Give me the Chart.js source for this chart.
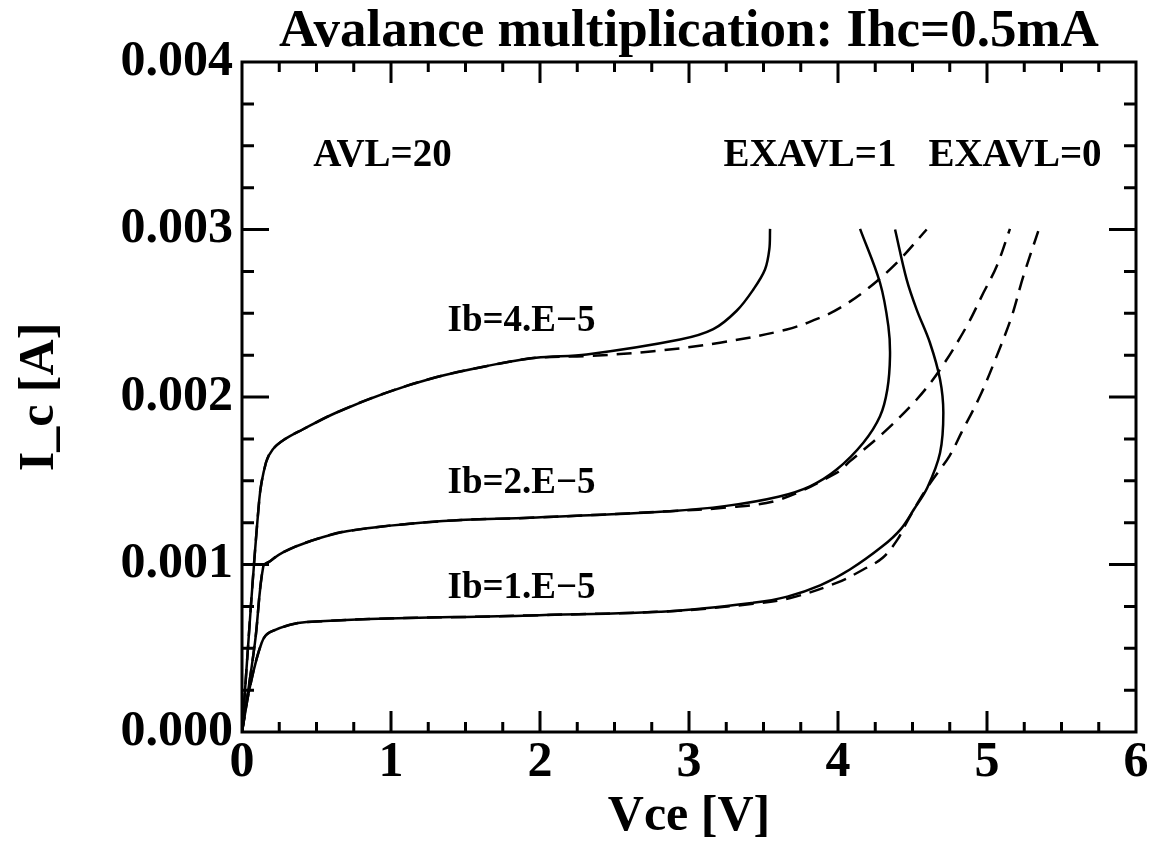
<!DOCTYPE html>
<html>
<head>
<meta charset="utf-8">
<title>Avalance multiplication</title>
<script src="https://cdn.jsdelivr.net/npm/chart.js@4.4.1/dist/chart.umd.min.js"></script>
<style>
  html, body { margin: 0; padding: 0; background: #fff; }
</style>
</head>
<body>
<canvas id="myChart" width="1153" height="843"></canvas>
<script>
// Ic(Vce) curves, Ic in A; solid = EXAVL=1, dashed = EXAVL=0
var vce_ib1_ex1 = [0, 0.054, 0.132, 0.188, 0.434, 1.933, 2.872, 3.43, 3.66, 3.88, 4.08, 4.30, 4.42, 4.51, 4.60, 4.685, 4.707, 4.685, 4.617, 4.528, 4.461, 4.383];
var ic_ib1_ex1  = [0, 0.000273, 0.000533, 0.000596, 0.000656, 0.000696, 0.000721, 0.000771, 0.000808, 0.000875, 0.00097, 0.00111, 0.00121, 0.00133, 0.00146, 0.001667, 0.001906, 0.002104, 0.002324, 0.002522, 0.002701, 0.003];

var vce_ib1_ex0 = [0, 0.054, 0.132, 0.188, 0.434, 1.933, 2.872, 3.43, 3.68, 3.99, 4.17, 4.30, 4.40, 4.46, 4.55, 4.63, 4.75, 4.83, 4.95, 5.065, 5.166, 5.244, 5.344];
var ic_ib1_ex0  = [0, 0.000273, 0.000533, 0.000596, 0.000656, 0.000696, 0.000721, 0.000765, 0.0008, 0.00089, 0.00097, 0.00104, 0.00115, 0.00125, 0.00139, 0.0015, 0.00165, 0.00179, 0.002, 0.002244, 0.002482, 0.002721, 0.00299];

var vce_ib2_ex1 = [0, 0.087, 0.143, 0.188, 0.275, 0.456, 0.703, 1.349, 1.933, 2.872, 3.25, 3.6, 3.812, 3.991, 4.17, 4.282, 4.331, 4.349, 4.338, 4.282, 4.148];
var ic_ib2_ex1  = [0, 0.000534, 0.00099, 0.00102, 0.001073, 0.001139, 0.001199, 0.001259, 0.001279, 0.001318, 0.00135, 0.001405, 0.001467, 0.001567, 0.001727, 0.001885, 0.002045, 0.002244, 0.002423, 0.002682, 0.003004];

var vce_ib2_ex0 = [0, 0.087, 0.143, 0.188, 0.275, 0.456, 0.703, 1.349, 1.933, 2.872, 3.25, 3.6, 3.99, 4.081, 4.304, 4.528, 4.685, 4.864, 4.976, 5.065, 5.154];
var ic_ib2_ex0  = [0, 0.000534, 0.00099, 0.00102, 0.001073, 0.001139, 0.001199, 0.001259, 0.001279, 0.001318, 0.00134, 0.001385, 0.001547, 0.001617, 0.001786, 0.001985, 0.002164, 0.002423, 0.002622, 0.002781, 0.003004];

var vce_ib4_ex1 = [0, 0.116, 0.161, 0.206, 0.284, 0.407, 0.631, 0.966, 1.302, 1.638, 1.973, 2.313, 2.94, 3.163, 3.32, 3.432, 3.51, 3.539, 3.544];
var ic_ib4_ex1  = [0, 0.001388, 0.001609, 0.001687, 0.001746, 0.001806, 0.001906, 0.002025, 0.002118, 0.002184, 0.002234, 0.002254, 0.002343, 0.002405, 0.002515, 0.002642, 0.002761, 0.002881, 0.003004];

var vce_ib4_ex0 = [0, 0.116, 0.161, 0.206, 0.284, 0.407, 0.631, 0.966, 1.302, 1.638, 1.973, 2.313, 2.76, 3.208, 3.656, 3.879, 4.013, 4.193, 4.394, 4.595];
var ic_ib4_ex0  = [0, 0.001388, 0.001609, 0.001687, 0.001746, 0.001806, 0.001906, 0.002025, 0.002118, 0.002184, 0.002234, 0.002244, 0.002273, 0.002324, 0.002403, 0.002473, 0.002532, 0.002642, 0.002801, 0.003];

// axes
var xTicks = [0, 1, 2, 3, 4, 5, 6];
var yTicks = [0, 0.001, 0.002, 0.003, 0.004];

// texts written inside the plot: [text, Vce, Ic at baseline, size]
var notes = [
    ['AVL=20', 0.943, 0.003382, 39],
    ['EXAVL=1', 3.812, 0.003382, 39],
    ['EXAVL=0', 5.188, 0.003382, 39],
    ['Ib=4.E\u22125', 1.876, 0.002393, 37],
    ['Ib=2.E\u22125', 1.876, 0.001424, 37],
    ['Ib=1.E\u22125', 1.876, 0.000801, 37]
];

function points(vs, is)
{
    return vs.map(function(v, i){ return {x: v, y: is[i]}; });
}

function courbe(label, vs, is, dashed)
{
    return {
        label: label,
        data: points(vs, is),
        showLine: true,
        borderColor: '#000',
        backgroundColor: '#000',
        borderWidth: 2.5,
        borderDash: dashed ? [15, 9] : [],
        pointRadius: 0,
        tension: 0.35,
        fill: false
    };
}

// frame with inward ticks on the four sides, plus the texts
var cadre = {
    id: 'cadre',
    afterDatasetsDraw: function(chart)
    {
        var ctx = chart.ctx;
        var a = chart.chartArea;
        var sx = chart.scales.x;
        var sy = chart.scales.y;
        ctx.save();
        ctx.strokeStyle = '#000';
        ctx.lineWidth = 3;
        ctx.lineCap = 'butt';
        ctx.beginPath();
        for (var k = 1; k < 24; k++) {
            var px = sx.getPixelForValue(k * 0.25);
            var lx = (k % 4 === 0) ? 21 : 10;
            ctx.moveTo(px, a.bottom); ctx.lineTo(px, a.bottom - lx);
            ctx.moveTo(px, a.top); ctx.lineTo(px, a.top + lx);
        }
        for (var j = 1; j < 16; j++) {
            var py = sy.getPixelForValue(j * 0.00025);
            var ly = (j % 4 === 0) ? 27 : 12;
            ctx.moveTo(a.left, py); ctx.lineTo(a.left + ly, py);
            ctx.moveTo(a.right, py); ctx.lineTo(a.right - ly, py);
        }
        ctx.stroke();
        ctx.strokeRect(a.left, a.top, a.right - a.left, a.bottom - a.top);

        ctx.fillStyle = '#000';
        ctx.textAlign = 'center';
        ctx.textBaseline = 'alphabetic';
        notes.forEach(function(n){
            ctx.font = 'bold ' + n[3] + 'px "Liberation Serif"';
            ctx.fillText(n[0], sx.getPixelForValue(n[1]), sy.getPixelForValue(n[2]));
        });
        ctx.restore();
    }
};

Chart.defaults.font.family = '"Liberation Serif", "Times New Roman", serif';
Chart.defaults.color = '#000';

var ctx = document.getElementById('myChart').getContext('2d');
var myChart = new Chart(ctx, {
    type: 'scatter',
    data: {
        datasets: [
            courbe('Ib=1.E-5 EXAVL=0', vce_ib1_ex0, ic_ib1_ex0, true),
            courbe('Ib=2.E-5 EXAVL=0', vce_ib2_ex0, ic_ib2_ex0, true),
            courbe('Ib=4.E-5 EXAVL=0', vce_ib4_ex0, ic_ib4_ex0, true),
            courbe('Ib=1.E-5 EXAVL=1', vce_ib1_ex1, ic_ib1_ex1, false),
            courbe('Ib=2.E-5 EXAVL=1', vce_ib2_ex1, ic_ib2_ex1, false),
            courbe('Ib=4.E-5 EXAVL=1', vce_ib4_ex1, ic_ib4_ex1, false)
        ]
    },
    options: {
        responsive: false,
        animation: false,
        devicePixelRatio: 1,
        layout: { padding: { left: 0, right: 17, top: 0, bottom: 0 } },
        plugins: {
            legend: { display: false },
            tooltip: { enabled: false },
            title: {
                display: true,
                text: 'Avalance multiplication: Ihc=0.5mA',
                fullSize: false,
                font: { size: 53, weight: 'bold', lineHeight: 1.1 },
                color: '#000',
                padding: { top: 3, bottom: 0.7 }
            }
        },
        scales: {
            x: {
                type: 'linear',
                min: 0,
                max: 6,
                afterFit: function(s){ s.height = 111; },
                afterBuildTicks: function(s){ s.ticks = xTicks.map(function(v){ return {value: v}; }); },
                grid: { display: false, drawTicks: false },
                border: { display: false },
                ticks: {
                    padding: 1,
                    maxRotation: 0,
                    font: { size: 50, weight: 'bold' },
                    callback: function(v){ return String(v); }
                },
                title: {
                    display: true,
                    text: 'Vce [V]',
                    font: { size: 50, weight: 'bold', lineHeight: 1 },
                    padding: { top: 0, bottom: 1 }
                }
            },
            y: {
                type: 'linear',
                min: 0,
                max: 0.004,
                afterFit: function(s){ s.width = 242; },
                afterBuildTicks: function(s){ s.ticks = yTicks.map(function(v){ return {value: v}; }); },
                grid: { display: false, drawTicks: false },
                border: { display: false },
                ticks: {
                    padding: 9,
                    font: { size: 50, weight: 'bold' },
                    callback: function(v){ return v.toFixed(3); }
                },
                title: {
                    display: true,
                    text: 'I_c [A]',
                    font: { size: 50, weight: 'bold' },
                    padding: { top: 10, bottom: 0 }
                }
            }
        }
    },
    plugins: [cadre]
});
</script>
</body>
</html>
